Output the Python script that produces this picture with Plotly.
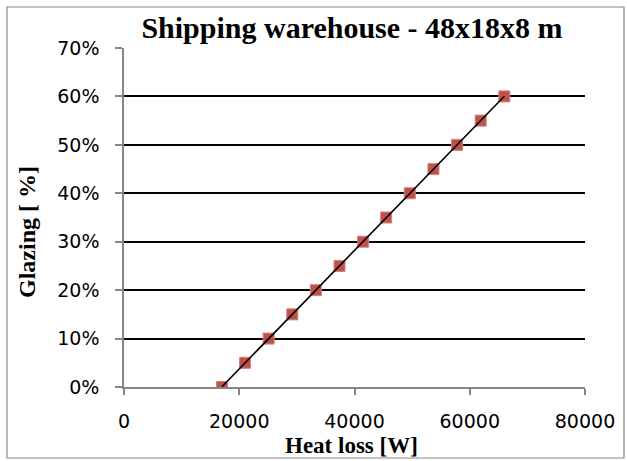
import numpy as np
import plotly.graph_objects as go

glazing = [0.00, 0.05, 0.10, 0.15, 0.20, 0.25, 0.30, 0.35, 0.40, 0.45, 0.50, 0.55, 0.60]
heat_loss = [17000, 21000, 25100, 29200, 33300, 37400, 41500, 45500, 49600, 53700, 57800, 61900, 66000]

title_text = "Shipping warehouse - 48x18x8 m"
x_title = "Heat loss [W]"
y_title = "Glazing [ %]"

# Linear trendline fitted to the data (as in the source chart)
slope, intercept = np.polyfit(heat_loss, glazing, 1)
x_fit = [min(heat_loss), max(heat_loss)]
y_fit = [slope * x + intercept for x in x_fit]

fig = go.Figure()
fig.add_trace(go.Scatter(
    x=heat_loss, y=glazing, mode="markers",
    marker=dict(symbol="square", size=11, color="#C0504D",
                line=dict(color="#D3807C", width=1)),
    showlegend=False, hoverinfo="skip"))
fig.add_trace(go.Scatter(
    x=x_fit, y=y_fit, mode="lines",
    line=dict(color="black", width=1.6),
    showlegend=False, hoverinfo="skip"))

W, H = 627, 461
ml, mr, mt, mb = 124, 42, 48, 74
pw = W - ml - mr
ph = H - mt - mb

tick_font = dict(family="DejaVu Sans", size=19, color="black")
title_font = dict(family="Liberation Serif", size=24, color="black")

fig.update_layout(
    width=W, height=H,
    margin=dict(l=ml, r=mr, t=mt, b=mb),
    paper_bgcolor="white", plot_bgcolor="white",
    title=dict(text="<b>" + title_text + "</b>", x=352 / W, xanchor="center",
               xref="container", yref="container",
               y=1 - 27 / H, yanchor="middle",
               font=dict(family="Liberation Serif", size=30, color="black")),
    xaxis=dict(range=[0, 80000], dtick=20000, tick0=0, tickformat="d",
               showgrid=False, zeroline=False,
               showline=True, linecolor="#868686", linewidth=1.5,
               ticks="outside", ticklen=6, tickcolor="#868686", tickwidth=1.5,
               ticklabelstandoff=10,
               tickfont=tick_font),
    yaxis=dict(range=[0, 0.7], dtick=0.1, tick0=0, tickformat=".0%",
               showgrid=True, gridcolor="black", gridwidth=1.6,
               zeroline=False,
               showline=True, linecolor="#868686", linewidth=1.5,
               ticks="outside", ticklen=7, tickcolor="#868686", tickwidth=1.5,
               ticklabelstandoff=12,
               tickfont=tick_font),
)

fig.add_annotation(text="<b>" + x_title + "</b>", xref="paper", yref="paper",
                   x=(351 - ml) / pw, y=-(446 - (H - mb)) / ph,
                   xanchor="center", yanchor="middle", showarrow=False,
                   font=dict(family="Liberation Serif", size=23, color="black"))
fig.add_annotation(text="<b>" + y_title + "</b>", xref="paper", yref="paper",
                   x=-(ml - 27) / pw, y=1 - (232 - mt) / ph, textangle=-90,
                   xanchor="center", yanchor="middle", showarrow=False,
                   font=title_font)

fig.add_shape(type="rect", xref="paper", yref="paper",
              x0=(7 - ml) / pw, x1=(W - 3 - ml) / pw,
              y0=-((H - 3) - (H - mb)) / ph, y1=1 + (mt - 7) / ph,
              line=dict(color="#868686", width=1.2), fillcolor="rgba(0,0,0,0)",
              layer="below")

fig.write_html("out.html", config={"displayModeBar": False},
               post_script="document.body.style.margin='0';")
